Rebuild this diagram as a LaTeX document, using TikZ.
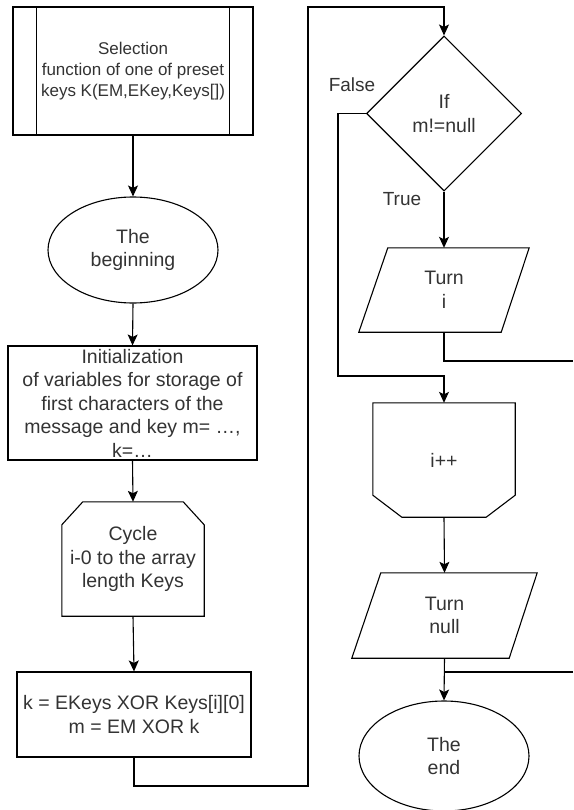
\documentclass[tikz,border=0pt]{standalone}
\usepackage{fontspec}
\setmainfont{Liberation Sans}
\usetikzlibrary{shapes.geometric,arrows.meta,calc}
\definecolor{txt}{HTML}{333333}
\begin{document}
\begin{tikzpicture}[x=1pt,y=-1pt,
  every node/.style={text=txt, font=\fontsize{19.5}{23.5}\selectfont, align=center, inner sep=0pt},
  line/.style={draw=black, line width=1.1pt},
  arr/.style={line, -{Stealth[length=11pt,width=10pt,inset=2.5pt]}},
  lbl/.style={font=\fontsize{19}{23}\selectfont}
]
\useasboundingbox (0,0) rectangle (573,810);
\clip (0,0) rectangle (573,810);

% left column
\node[rectangle, line, minimum width=240pt, minimum height=128pt, font=\fontsize{17}{21}\selectfont] (sub) at (133,71) {Selection\\function of one of preset\\keys K(EM,EKey,Keys[])};
\draw[line] ([xshift=24pt]sub.north west) -- ([xshift=24pt]sub.south west);
\draw[line] ([xshift=-24pt]sub.north east) -- ([xshift=-24pt]sub.south east);

\node[ellipse, line, minimum width=170pt, minimum height=106pt] (beg) at (133,250) {The\\beginning};

\node[rectangle, line, minimum width=249pt, minimum height=114pt] (init) at (132.5,403) {Initialization\\of variables for storage of\\first characters of the\\message and key m= …,\\k=…};

\node[minimum width=142pt, minimum height=114pt] (cyc) at (133,559) {Cycle\\i-0 to the array\\length Keys};
\draw[line] ([yshift=-23pt]cyc.north west) -- ([xshift=21pt]cyc.north west) -- ([xshift=-21pt]cyc.north east) -- ([yshift=-23pt]cyc.north east) -- (cyc.south east) -- (cyc.south west) -- cycle;

\node[rectangle, line, minimum width=234pt, minimum height=85pt] (kb) at (134,714.5) {k = EKeys XOR Keys[i][0]\\m = EM XOR k};

% right column
\node[diamond, line, minimum width=155pt, minimum height=155pt, aspect=1] (dia) at (444,113.5) {If\\m!=null};

\node[minimum width=170pt, minimum height=84pt] (ti) at (444,290) {Turn\\i};
\draw[line] ([xshift=29pt]ti.north west) -- (ti.north east) -- ([xshift=-28pt]ti.south east) -- (ti.south west) -- cycle;

\node[minimum width=142pt, minimum height=114pt] (inc) at (444,460) {i++};
\draw[line] (inc.north west) -- (inc.north east) -- ([yshift=22pt]inc.south east) -- ([xshift=-29pt]inc.south east) -- ([xshift=29pt]inc.south west) -- ([yshift=22pt]inc.south west) -- cycle;

\node[minimum width=185pt, minimum height=85pt] (tn) at (444.5,615.5) {Turn\\null};
\draw[line] ([xshift=29pt]tn.north west) -- (tn.north east) -- ([xshift=-28pt]tn.south east) -- (tn.south west) -- cycle;

\node[ellipse, line, minimum width=170pt, minimum height=110pt] (end) at (444,756) {The\\end};

\node[lbl] (lf) at (352,85) {False};
\node[lbl] (lt) at (402,199) {True};

% connectors
\draw[arr] (sub.south) -- (beg.north);
\draw[arr] (beg.south) -- (init.north);
\draw[arr] (init.south) -- (cyc.north);
\draw[arr] (cyc.south) -- (kb.north);
\coordinate (lb) at (308,786);
\coordinate (ltop) at (308,7);
\draw[arr] (kb.south) |- (lb) -- (ltop) -| (dia.north);
\coordinate (fb) at (338,376);
\draw[arr] (dia.west) -| (fb) -| (inc.north);
\draw[arr] (dia.south) -- (ti.north);
\coordinate (r1) at (573,361);
\draw[line] (ti.south) |- (r1);
\draw[arr] (inc.south) -- (tn.north);
\draw[arr] (tn.south) -- (end.north);
\coordinate (r2) at (573,672);
\draw[line] (r2) -- (r2 -| tn.south);
\end{tikzpicture}
\end{document}
